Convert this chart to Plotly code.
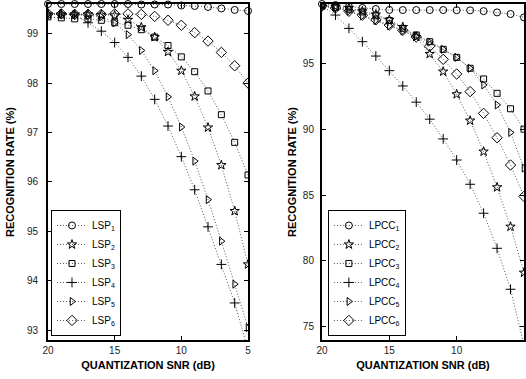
import plotly.graph_objects as go

snr = [20, 19, 18, 17, 16, 15, 14, 13, 12, 11, 10, 9, 8, 7, 6, 5]

lsp1 = [99.6, 99.6, 99.6, 99.6, 99.6, 99.6, 99.6, 99.59, 99.59, 99.59, 99.57, 99.56, 99.54, 99.51, 99.48, 99.46]
lsp2 = [99.39, 99.39, 99.39, 99.39, 99.38, 99.37, 99.28, 99.13, 98.93, 98.63, 98.25, 97.73, 97.10, 96.34, 95.41, 94.33]
lsp3 = [99.34, 99.32, 99.30, 99.30, 99.27, 99.22, 99.17, 99.08, 98.93, 98.76, 98.53, 98.23, 97.84, 97.36, 96.80, 96.14]
lsp4 = [99.40, 99.40, 99.39, 99.22, 99.05, 98.82, 98.52, 98.14, 97.67, 97.13, 96.51, 95.84, 95.09, 94.33, 93.55, 92.6]
lsp5 = [99.40, 99.40, 99.39, 99.37, 99.34, 99.22, 98.98, 98.66, 98.25, 97.72, 97.11, 96.42, 95.64, 94.80, 93.93, 93.05]
lsp6 = [99.40, 99.40, 99.39, 99.39, 99.39, 99.40, 99.40, 99.39, 99.35, 99.27, 99.17, 99.02, 98.85, 98.62, 98.35, 98.00]

lpcc1 = [99.5, 99.42, 99.3, 99.2, 99.12, 99.05, 99.04, 99.04, 99.04, 99.04, 99.03, 99.02, 98.96, 98.86, 98.74, 98.48]
lpcc2 = [99.4, 99.3, 99.2, 98.95, 98.7, 98.3, 97.75, 97.0, 95.71, 94.37, 92.65, 90.65, 88.3, 85.59, 82.6, 79.11]
lpcc3 = [99.35, 99.25, 99.1, 98.9, 98.6, 98.25, 97.65, 97.15, 96.64, 96.06, 95.45, 94.62, 93.81, 92.72, 91.55, 90.0]
lpcc4 = [99.35, 98.66, 97.65, 96.64, 95.55, 94.44, 93.28, 92.05, 90.76, 89.26, 87.66, 85.82, 83.62, 80.96, 77.85, 73.6]
lpcc5 = [99.35, 99.2, 98.95, 98.6, 98.25, 97.85, 97.45, 97.05, 96.6, 96.06, 95.45, 94.62, 93.36, 91.84, 89.75, 87.05]
lpcc6 = [99.35, 99.2, 98.95, 98.65, 98.3, 97.9, 97.5, 97.0, 96.3, 95.3, 94.19, 92.85, 91.2, 89.35, 87.28, 84.9]

left_names = ["LSP<sub>1</sub>", "LSP<sub>2</sub>", "LSP<sub>3</sub>", "LSP<sub>4</sub>", "LSP<sub>5</sub>", "LSP<sub>6</sub>"]
right_names = ["LPCC<sub>1</sub>", "LPCC<sub>2</sub>", "LPCC<sub>3</sub>", "LPCC<sub>4</sub>", "LPCC<sub>5</sub>", "LPCC<sub>6</sub>"]
x_ticks = [20, 15, 10, 5]
left_y_ticks = [93, 94, 95, 96, 97, 98, 99]
right_y_ticks = [75, 80, 85, 90, 95]

symbols = ["circle-open", "star-open", "square-open", "cross-thin-open", "triangle-right-open", "diamond-open"]
sizes = [7, 7, 6, 7, 7, 8]

left_series = [lsp1, lsp2, lsp3, lsp4, lsp5, lsp6]
right_series = [lpcc1, lpcc2, lpcc3, lpcc4, lpcc5, lpcc6]

line_style = dict(color="#555555", width=1, dash="1px,2px")

fig = go.Figure()

for i, (name, ys) in enumerate(zip(left_names, left_series)):
    fig.add_trace(go.Scatter(
        x=snr, y=ys, name=name, mode="lines+markers",
        line=line_style,
        marker=dict(symbol=symbols[i], size=sizes[i], color="black",
                    line=dict(color="black", width=1)),
        cliponaxis=(i != 0),
        xaxis="x", yaxis="y", legend="legend"))

for i, (name, ys) in enumerate(zip(right_names, right_series)):
    fig.add_trace(go.Scatter(
        x=snr, y=ys, name=name, mode="lines+markers",
        line=line_style,
        marker=dict(symbol=symbols[i], size=sizes[i], color="black",
                    line=dict(color="black", width=1)),
        cliponaxis=(i != 0),
        xaxis="x2", yaxis="y2", legend="legend2"))

axis_common = dict(
    showline=True, linecolor="black", linewidth=2, mirror="ticks",
    ticks="inside", ticklen=4, tickwidth=1, tickcolor="black",
    showgrid=False, zeroline=False, automargin=False,
    tickfont=dict(family="Liberation Sans, Arial", size=10, color="#222"),
)
title_font = dict(family="Liberation Sans, Arial", size=11, color="black", weight="bold")
legend_common = dict(xanchor="left", yanchor="bottom",
                     bgcolor="white", bordercolor="black", borderwidth=1,
                     font=dict(family="Liberation Sans, Arial", size=10, color="black"),
                     tracegroupgap=0, itemwidth=30)

fig.update_layout(
    width=526, height=379,
    margin=dict(l=48, r=2, t=4, b=39),
    paper_bgcolor="white", plot_bgcolor="white",
    xaxis=dict(domain=[0, 0.4202], range=[20, 5], tickvals=x_ticks,
               title=dict(text="QUANTIZATION SNR (dB)", font=title_font, standoff=6),
               anchor="y", **axis_common),
    yaxis=dict(domain=[0, 1], range=[92.8, 99.6], tickvals=left_y_ticks,
               title=dict(text="RECOGNITION RATE (%)", font=title_font, standoff=10),
               ticklabelstandoff=6, anchor="x", **axis_common),
    xaxis2=dict(domain=[0.5756, 1.0], range=[20, 5], tickvals=x_ticks,
                title=dict(text="QUANTIZATION SNR (dB)", font=title_font, standoff=6),
                anchor="y2", **axis_common),
    yaxis2=dict(domain=[0, 1], range=[74, 99.5], tickvals=right_y_ticks,
                title=dict(text="RECOGNITION RATE (%)", font=title_font, standoff=4),
                ticklabelstandoff=4, anchor="x2", **axis_common),
    legend=dict(x=0.0063, y=0.012, **legend_common),
    legend2=dict(x=0.588, y=0.012, **legend_common),
)

fig.write_html("out.html", config={"displayModeBar": False},
               post_script="document.body.style.margin='0px';")
